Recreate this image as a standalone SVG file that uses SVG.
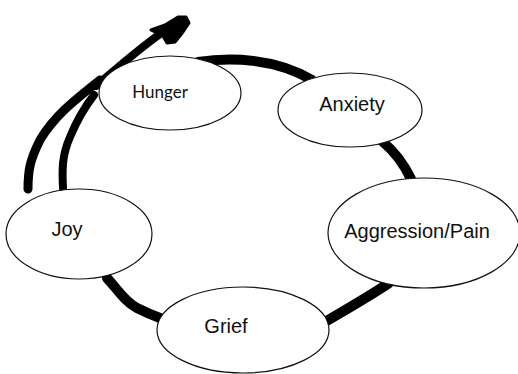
<svg xmlns="http://www.w3.org/2000/svg" width="518" height="374" viewBox="0 0 518 374">
<style>
.node ellipse{fill:#fff;stroke:#111;stroke-width:1.2}
.node text{font-family:"Liberation Sans",Arial,sans-serif;font-size:20px;fill:#111;text-anchor:middle}
.conn path{fill:none;stroke:#000;stroke-linecap:round;stroke-linejoin:round}
.conn path.head{fill:#000;stroke-width:3}
</style>
<rect width="518" height="374" fill="#fff"/>
<g id="connectors" class="conn">
<path d="M198,62 C230,57 275,58 312,80" stroke-width="10"/>
<path d="M383,142 Q400,156 411,179" stroke-width="10"/>
<path d="M389,283 C370,296 345,310 325,322" stroke-width="10"/>
<path d="M107,278 C118,290 125,302 137,308 C145,312 152,315 160,318" stroke-width="10"/>
<path d="M28,189 C28,170 30,160 40,140 C55,115 75,100 100,80" stroke-width="9"/>
<path d="M63,188 C62,170 62,155 70,137 C77,120 84,108 94,95" stroke-width="8"/>
<path d="M96,86 C115,70 135,52 160,34" stroke-width="8"/>
<path class="head" d="M151,30 L165,25 L178,17 L186,17 L189,23 L183,32 L175,42 L167,43 L163,36 Z"/>
</g>
<g id="hunger" class="node">
<ellipse cx="170" cy="93" rx="71" ry="37"/>
<text x="160" y="98" style="font-family:Lato,'Noto Sans',sans-serif;font-size:17px">Hunger</text>
</g>
<g id="anxiety" class="node">
<ellipse cx="350" cy="110" rx="72" ry="37"/>
<text x="352" y="111">Anxiety</text>
</g>
<g id="aggression" class="node">
<ellipse cx="424" cy="233" rx="96" ry="55"/>
<text x="417" y="238">Aggression/Pain</text>
</g>
<g id="joy" class="node">
<ellipse cx="79" cy="234" rx="73" ry="45"/>
<text x="67" y="236">Joy</text>
</g>
<g id="grief" class="node">
<ellipse cx="243" cy="330" rx="86" ry="43"/>
<text x="226" y="333">Grief</text>
</g>
</svg>
